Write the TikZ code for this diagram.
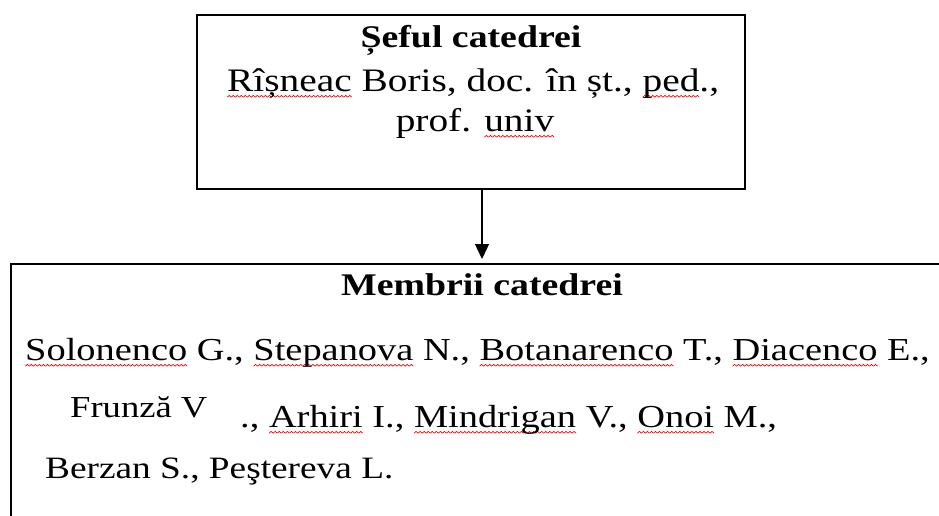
\documentclass[tikz,border=0pt]{standalone}
\usepackage{fontspec}
\setmainfont[FakeStretch=1.2]{Liberation Serif}
\usetikzlibrary{arrows.meta}
\newsavebox\zigbox
\newcommand\wv[1]{\setbox0\hbox{#1}\rlap{\raisebox{-6.5pt}{\hbox to \wd0{\xleaders\copy\zigbox\hfill}}}#1}
\begin{document}
\sbox\zigbox{\begin{pgfpicture}\pgfpathrectangle{\pgfpoint{0pt}{0pt}}{\pgfpoint{4pt}{2.4pt}}\pgfusepath{use as bounding box}\pgfsetstrokecolor{red}\pgfsetlinewidth{0.7pt}\pgfpathmoveto{\pgfpoint{0pt}{0.3pt}}\pgfpathlineto{\pgfpoint{2pt}{2.1pt}}\pgfpathlineto{\pgfpoint{4pt}{0.3pt}}\pgfusepath{stroke}\end{pgfpicture}}
\begin{tikzpicture}[x=1pt,y=-1pt,
  box/.style={draw,line width=1.8pt,inner sep=0pt},
  txt/.style={inner sep=0pt,anchor=base west,font=\fontsize{32}{38}\selectfont},
  ctxt/.style={inner sep=0pt,anchor=base,font=\fontsize{32}{38}\selectfont},
  btxt/.style={inner sep=0pt,anchor=base,font=\bfseries\fontsize{31.5}{38}\selectfont},
  arr/.style={-{Triangle[length=15pt,width=14pt]},line width=1.3pt,shorten >=4pt}]
\clip (0,0) rectangle (939,515);
\fill[white] (0,0) rectangle (939,515);
\node[box,minimum width=548pt,minimum height=174pt,anchor=north west] (chief) at (196,14) {};
\node[btxt] (t1) at (471,47) {Șeful catedrei};
\node[txt,font=\fontsize{32.8}{38}\selectfont] (t2) at (227,91) {\wv{Rîșneac} Boris, doc. în șt., \wv{ped}.,};
\node[ctxt,font=\fontsize{32.8}{38}\selectfont] (t3) at (475,131) {prof. \wv{univ}};
\node[box,minimum width=980pt,minimum height=300pt,anchor=north west] (members) at (10,263) {};
\coordinate (ax) at (482,0);
\draw[arr] (chief.south -| ax) -- (members.north -| ax);
\node[btxt] (m0) at (482,295) {Membrii catedrei};
\node[txt] (m1) at (25,360) {\wv{Solonenco} G.,\ \wv{Stepanova} N., \wv{Botanarenco} T.,\ \wv{Diacenco} E.,};
\node[txt,font=\fontsize{30.5}{36}\selectfont] (m2a) at (70,417) {Frunză V};
\node[txt] (m2b) at (240,427) {., \wv{Arhiri} I., \wv{Mindrigan} V., \wv{Onoi} M.,};
\node[txt,font=\fontsize{31.1}{36}\selectfont] (m3) at (45,478) {Berzan S., Peştereva L.};
\end{tikzpicture}
\end{document}
